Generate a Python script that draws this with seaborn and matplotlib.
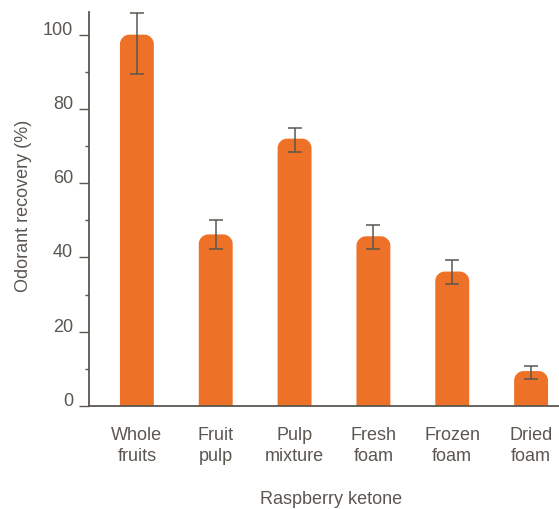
import matplotlib
matplotlib.use("Agg")
import matplotlib.pyplot as plt
from matplotlib.path import Path
from matplotlib.patches import PathPatch
from matplotlib.ticker import FixedLocator
import numpy as np
import pandas as pd
import seaborn as sns

# Odorant recovery of raspberry ketone per sample type
categories = ["Whole\nfruits", "Fruit\npulp", "Pulp\nmixture", "Fresh\nfoam", "Frozen\nfoam", "Dried\nfoam"]
recovery = [100.0, 46.2, 72.0, 45.7, 36.2, 9.4]
err_low = [89.4, 42.3, 68.3, 42.2, 32.8, 7.3]
err_high = [105.9, 50.0, 74.9, 48.8, 39.3, 10.8]
y_ticks = [0, 20, 40, 60, 80, 100]
y_minor = [10, 30, 50, 70, 90]

BAR = "#EE7128"
INK = "#5b5650"
FS = 13

sns.set_theme(style="white")
plt.rcParams["font.family"] = ["Liberation Sans", "DejaVu Sans"]

fig = plt.figure(figsize=(5.59, 5.09), dpi=100)
ax = fig.add_axes([0.1587, 0.2024, 0.8413, 0.774])

df = pd.DataFrame({"sample": categories, "recovery": recovery})
sns.barplot(data=df, x="sample", y="recovery", color=BAR, saturation=1,
            width=0.43, errorbar=None, ax=ax)

ax.set_xlim(-0.611, 5.354)
ax.set_ylim(0, 106.1)

# Replace the square bars with bars that have rounded top corners
fig.canvas.draw()
bbox = ax.get_window_extent()
px_per_x = bbox.width / (ax.get_xlim()[1] - ax.get_xlim()[0])
px_per_y = bbox.height / (ax.get_ylim()[1] - ax.get_ylim()[0])
radius_px = 9.5
rx = radius_px / px_per_x
ry = radius_px / px_per_y
k = 0.5523

for patch in list(ax.patches):
    x0 = patch.get_x()
    w = patch.get_width()
    h = patch.get_height()
    x1 = x0 + w
    r_y = min(ry, h)
    verts = [(x0, 0), (x0, h - r_y),
             (x0, h - r_y + k * r_y), (x0 + rx - k * rx, h), (x0 + rx, h),
             (x1 - rx, h),
             (x1 - rx + k * rx, h), (x1, h - r_y + k * r_y), (x1, h - r_y),
             (x1, 0), (x0, 0)]
    codes = [Path.MOVETO, Path.LINETO,
             Path.CURVE4, Path.CURVE4, Path.CURVE4,
             Path.LINETO,
             Path.CURVE4, Path.CURVE4, Path.CURVE4,
             Path.LINETO, Path.CLOSEPOLY]
    ax.add_patch(PathPatch(Path(verts, codes), facecolor=BAR, edgecolor="none", zorder=2))
    patch.remove()

# Error bars
xpos = np.arange(len(categories))
vals = np.array(recovery)
yerr = [vals - np.array(err_low), np.array(err_high) - vals]
ax.errorbar(xpos, vals, yerr=yerr, fmt="none", ecolor=INK, elinewidth=1.1,
            capsize=5, capthick=1.1, zorder=3)

# Axes styling
for side in ["top", "right"]:
    ax.spines[side].set_visible(False)
for side in ["left", "bottom"]:
    ax.spines[side].set_color(INK)
    ax.spines[side].set_linewidth(1.3)

ax.set_yticks(y_ticks, labels=[str(t) for t in y_ticks], va="baseline")
ax.yaxis.set_minor_locator(FixedLocator(y_minor))
ax.tick_params(axis="y", which="major", left=True, length=7, width=1.0,
               color=INK, labelcolor=INK, labelsize=FS, pad=4.3, direction="out")
ax.tick_params(axis="y", which="minor", left=True, length=2.8, width=1.0,
               color=INK, direction="out")

ax.set_xticks(xpos, labels=categories, linespacing=1.38)
ax.tick_params(axis="x", length=0, pad=14.8, labelsize=FS, labelcolor=INK)

ax.set_xlabel("Raspberry ketone", fontsize=FS, color=INK)
ax.xaxis.set_label_coords(0.515, -0.217)
ax.set_ylabel("Odorant recovery (%)", fontsize=FS, color=INK)
ax.yaxis.set_label_coords(-0.1206, 0.508)

fig.savefig("out.png", dpi=100)
